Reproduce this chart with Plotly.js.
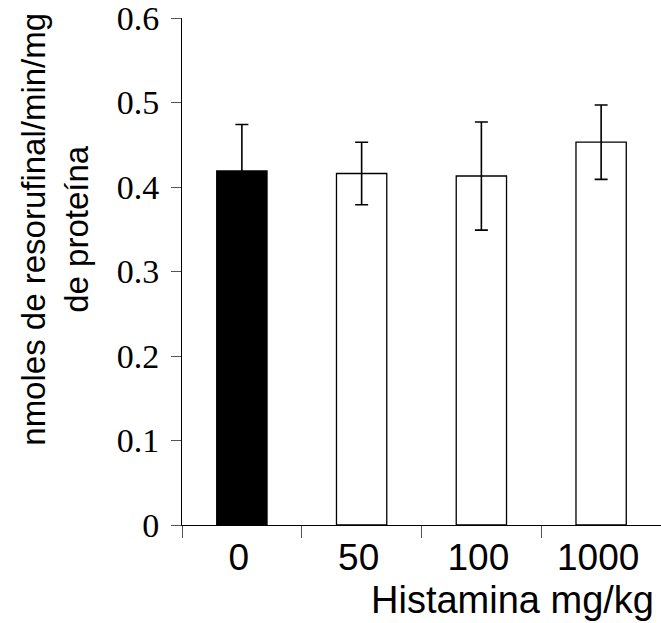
<!DOCTYPE html>
<html>
<head>
<meta charset="utf-8">
<script src="https://cdn.plot.ly/plotly-3.0.1.min.js"></script>
<style>html,body{margin:0;padding:0;background:#fff;}#chart{width:661px;height:623px;}</style>
</head>
<body>
<div id="chart"></div>
<script>
// Data
const categories = ['0', '50', '100', '1000'];
const values = [0.419, 0.416, 0.413, 0.453];
const errors = [0.055, 0.037, 0.064, 0.044];
const yTickVals = [0, 0.1, 0.2, 0.3, 0.4, 0.5, 0.6];
const yTickText = ['0', '0.1', '0.2', '0.3', '0.4', '0.5', '0.6'];
const yTitle = 'nmoles de resorufinal/min/mg<br>de proteína';
const xTitle = 'Histamina mg/kg';

// Styles
const fills = ['#000000', '#ffffff', '#ffffff', '#ffffff'];

const trace = {
  type: 'bar',
  x: categories,
  y: values,
  marker: {color: fills, line: {color: '#000', width: 1.3}},
  error_y: {type: 'data', array: errors, visible: true, color: '#000', thickness: 1.6, width: 6.5},
  hoverinfo: 'none'
};

const layout = {
  width: 661, height: 623,
  margin: {l: 182, r: 0, t: 18, b: 98, pad: 0},
  paper_bgcolor: '#fff', plot_bgcolor: '#fff',
  showlegend: false,
  bargap: 0.58,
  xaxis: {
    type: 'category', range: [-0.5, 3.5],
    showline: true, linecolor: '#000', linewidth: 1,
    ticks: 'outside', tickson: 'boundaries', ticklen: 12, tickcolor: '#555', tickwidth: 1,
    showgrid: false, zeroline: false, ticklabelshift: -3, ticklabeloverflow: 'allow',
    tickfont: {family: 'Liberation Sans, Arial, sans-serif', size: 37, color: '#000'}
  },
  yaxis: {
    range: [0, 0.6], tickvals: yTickVals, ticktext: yTickText,
    showline: true, linecolor: '#000', linewidth: 1,
    ticks: 'outside', ticklen: 10, tickcolor: '#555', tickwidth: 1,
    showgrid: false, zeroline: false, ticklabelstandoff: 5, ticklabeloverflow: 'allow',
    tickfont: {family: 'Liberation Serif, Times New Roman, serif', size: 34, color: '#000'}
  },
  annotations: [
    {text: yTitle, textangle: -90, xref: 'paper', yref: 'paper',
     x: (55 - 182) / 479, y: 0.5824, xanchor: 'center', yanchor: 'middle', showarrow: false,
     font: {family: 'Liberation Sans, Arial, sans-serif', size: 33, color: '#000'}},
    {text: xTitle, xref: 'paper', yref: 'paper',
     x: (656 - 182) / 479, y: (525.3 - 600) / 507, xanchor: 'right', yanchor: 'middle', showarrow: false,
     font: {family: 'Liberation Sans, Arial, sans-serif', size: 38, color: '#000'}}
  ]
};

Plotly.newPlot('chart', [trace], layout, {staticPlot: true, displayModeBar: false});
</script>
</body>
</html>
